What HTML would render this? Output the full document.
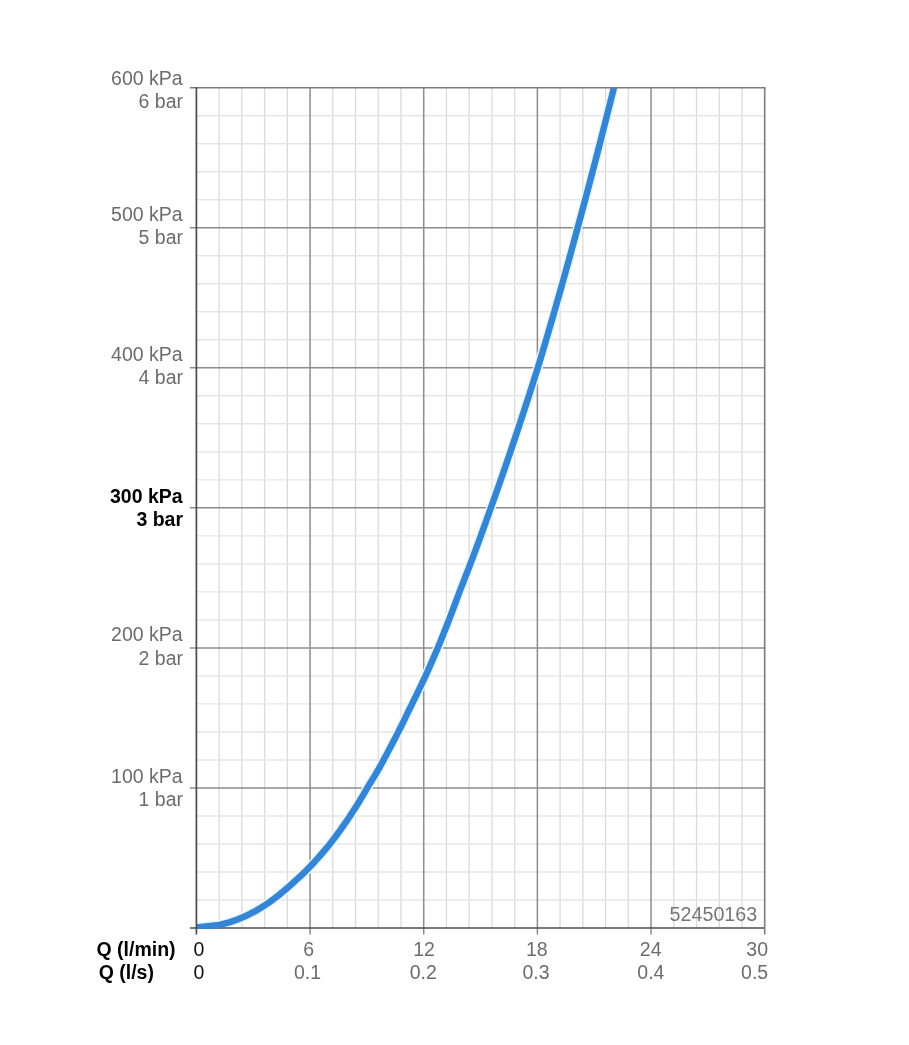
<!DOCTYPE html>
<html><head><meta charset="utf-8"><title>Pressure loss chart</title>
<style>
html,body{margin:0;padding:0;background:#fff;}
body{width:909px;height:1045px;overflow:hidden;}
svg{display:block;font-family:"Liberation Sans",Arial,Helvetica,sans-serif;font-size:19.5px;}
</style></head><body>
<svg width="909" height="1045" viewBox="0 0 909 1045">
<line x1="219.13" y1="87.70" x2="219.13" y2="928.00" stroke="#dadada" stroke-width="1.3"/>
<line x1="241.86" y1="87.70" x2="241.86" y2="928.00" stroke="#dadada" stroke-width="1.3"/>
<line x1="264.60" y1="87.70" x2="264.60" y2="928.00" stroke="#dadada" stroke-width="1.3"/>
<line x1="287.33" y1="87.70" x2="287.33" y2="928.00" stroke="#dadada" stroke-width="1.3"/>
<line x1="332.79" y1="87.70" x2="332.79" y2="928.00" stroke="#dadada" stroke-width="1.3"/>
<line x1="355.52" y1="87.70" x2="355.52" y2="928.00" stroke="#dadada" stroke-width="1.3"/>
<line x1="378.26" y1="87.70" x2="378.26" y2="928.00" stroke="#dadada" stroke-width="1.3"/>
<line x1="400.99" y1="87.70" x2="400.99" y2="928.00" stroke="#dadada" stroke-width="1.3"/>
<line x1="446.45" y1="87.70" x2="446.45" y2="928.00" stroke="#dadada" stroke-width="1.3"/>
<line x1="469.18" y1="87.70" x2="469.18" y2="928.00" stroke="#dadada" stroke-width="1.3"/>
<line x1="491.92" y1="87.70" x2="491.92" y2="928.00" stroke="#dadada" stroke-width="1.3"/>
<line x1="514.65" y1="87.70" x2="514.65" y2="928.00" stroke="#dadada" stroke-width="1.3"/>
<line x1="560.11" y1="87.70" x2="560.11" y2="928.00" stroke="#dadada" stroke-width="1.3"/>
<line x1="582.84" y1="87.70" x2="582.84" y2="928.00" stroke="#dadada" stroke-width="1.3"/>
<line x1="605.58" y1="87.70" x2="605.58" y2="928.00" stroke="#dadada" stroke-width="1.3"/>
<line x1="628.31" y1="87.70" x2="628.31" y2="928.00" stroke="#dadada" stroke-width="1.3"/>
<line x1="673.77" y1="87.70" x2="673.77" y2="928.00" stroke="#dadada" stroke-width="1.3"/>
<line x1="696.50" y1="87.70" x2="696.50" y2="928.00" stroke="#dadada" stroke-width="1.3"/>
<line x1="719.24" y1="87.70" x2="719.24" y2="928.00" stroke="#dadada" stroke-width="1.3"/>
<line x1="741.97" y1="87.70" x2="741.97" y2="928.00" stroke="#dadada" stroke-width="1.3"/>
<line x1="196.40" y1="899.99" x2="764.70" y2="899.99" stroke="#e5e5e5" stroke-width="1.4"/>
<line x1="196.40" y1="871.98" x2="764.70" y2="871.98" stroke="#e5e5e5" stroke-width="1.4"/>
<line x1="196.40" y1="843.97" x2="764.70" y2="843.97" stroke="#e5e5e5" stroke-width="1.4"/>
<line x1="196.40" y1="815.96" x2="764.70" y2="815.96" stroke="#e5e5e5" stroke-width="1.4"/>
<line x1="196.40" y1="759.94" x2="764.70" y2="759.94" stroke="#e5e5e5" stroke-width="1.4"/>
<line x1="196.40" y1="731.93" x2="764.70" y2="731.93" stroke="#e5e5e5" stroke-width="1.4"/>
<line x1="196.40" y1="703.92" x2="764.70" y2="703.92" stroke="#e5e5e5" stroke-width="1.4"/>
<line x1="196.40" y1="675.91" x2="764.70" y2="675.91" stroke="#e5e5e5" stroke-width="1.4"/>
<line x1="196.40" y1="619.89" x2="764.70" y2="619.89" stroke="#e5e5e5" stroke-width="1.4"/>
<line x1="196.40" y1="591.88" x2="764.70" y2="591.88" stroke="#e5e5e5" stroke-width="1.4"/>
<line x1="196.40" y1="563.87" x2="764.70" y2="563.87" stroke="#e5e5e5" stroke-width="1.4"/>
<line x1="196.40" y1="535.86" x2="764.70" y2="535.86" stroke="#e5e5e5" stroke-width="1.4"/>
<line x1="196.40" y1="479.84" x2="764.70" y2="479.84" stroke="#e5e5e5" stroke-width="1.4"/>
<line x1="196.40" y1="451.83" x2="764.70" y2="451.83" stroke="#e5e5e5" stroke-width="1.4"/>
<line x1="196.40" y1="423.82" x2="764.70" y2="423.82" stroke="#e5e5e5" stroke-width="1.4"/>
<line x1="196.40" y1="395.81" x2="764.70" y2="395.81" stroke="#e5e5e5" stroke-width="1.4"/>
<line x1="196.40" y1="339.79" x2="764.70" y2="339.79" stroke="#e5e5e5" stroke-width="1.4"/>
<line x1="196.40" y1="311.78" x2="764.70" y2="311.78" stroke="#e5e5e5" stroke-width="1.4"/>
<line x1="196.40" y1="283.77" x2="764.70" y2="283.77" stroke="#e5e5e5" stroke-width="1.4"/>
<line x1="196.40" y1="255.76" x2="764.70" y2="255.76" stroke="#e5e5e5" stroke-width="1.4"/>
<line x1="196.40" y1="199.74" x2="764.70" y2="199.74" stroke="#e5e5e5" stroke-width="1.4"/>
<line x1="196.40" y1="171.73" x2="764.70" y2="171.73" stroke="#e5e5e5" stroke-width="1.4"/>
<line x1="196.40" y1="143.72" x2="764.70" y2="143.72" stroke="#e5e5e5" stroke-width="1.4"/>
<line x1="196.40" y1="115.71" x2="764.70" y2="115.71" stroke="#e5e5e5" stroke-width="1.4"/>
<line x1="310.06" y1="87.70" x2="310.06" y2="934.40" stroke="#8c8c8c" stroke-width="1.5"/>
<line x1="423.72" y1="87.70" x2="423.72" y2="934.40" stroke="#8c8c8c" stroke-width="1.5"/>
<line x1="537.38" y1="87.70" x2="537.38" y2="934.40" stroke="#8c8c8c" stroke-width="1.5"/>
<line x1="651.04" y1="87.70" x2="651.04" y2="934.40" stroke="#8c8c8c" stroke-width="1.5"/>
<line x1="189.80" y1="787.95" x2="764.70" y2="787.95" stroke="#8c8c8c" stroke-width="1.5"/>
<line x1="189.80" y1="647.90" x2="764.70" y2="647.90" stroke="#8c8c8c" stroke-width="1.5"/>
<line x1="189.80" y1="507.85" x2="764.70" y2="507.85" stroke="#8c8c8c" stroke-width="1.5"/>
<line x1="189.80" y1="367.80" x2="764.70" y2="367.80" stroke="#8c8c8c" stroke-width="1.5"/>
<line x1="189.80" y1="227.75" x2="764.70" y2="227.75" stroke="#8c8c8c" stroke-width="1.5"/>
<defs><clipPath id="c"><rect x="196.20000000000002" y="87.7" width="568.3000000000001" height="841.3"/></clipPath></defs>
<polyline clip-path="url(#c)" points="196.20,927.52 219.54,924.97 230.08,922.14 238.03,919.31 244.68,916.49 250.51,913.66 255.76,910.83 260.57,908.00 265.02,905.17 269.18,902.34 273.11,899.51 276.83,896.69 280.37,893.86 283.75,891.03 287.00,888.20 290.25,885.37 293.46,882.54 296.58,879.71 299.63,876.89 302.59,874.06 305.49,871.23 308.33,868.40 311.09,865.57 313.71,862.74 316.28,859.91 318.80,857.08 321.27,854.26 323.70,851.43 326.08,848.60 328.42,845.77 330.70,842.94 332.87,840.11 335.01,837.28 337.10,834.46 339.17,831.63 341.20,828.80 343.20,825.97 345.17,823.14 347.12,820.31 349.03,817.48 350.91,814.66 352.75,811.83 354.56,809.00 356.35,806.17 358.12,803.34 359.86,800.51 361.57,797.68 363.24,794.86 364.89,792.03 366.52,789.20 368.21,786.37 369.95,783.54 371.69,780.71 373.40,777.88 375.10,775.06 376.79,772.23 378.46,769.40 380.02,766.57 381.58,763.74 383.12,760.91 384.64,758.08 386.15,755.26 387.65,752.43 389.14,749.60 390.64,746.77 392.13,743.94 393.61,741.11 395.08,738.28 396.53,735.45 397.98,732.63 399.40,729.80 400.80,726.97 402.19,724.14 403.57,721.31 404.95,718.48 406.31,715.65 407.66,712.83 409.02,710.00 410.44,707.17 411.84,704.34 413.24,701.51 414.63,698.68 416.01,695.85 417.39,693.03 418.75,690.20 420.11,687.37 421.46,684.54 422.81,681.71 424.15,678.88 425.48,676.05 426.75,673.23 428.01,670.40 429.27,667.57 430.51,664.74 431.75,661.91 432.99,659.08 434.21,656.25 435.43,653.43 436.65,650.60 437.85,647.77 439.01,644.94 440.16,642.11 441.30,639.28 442.44,636.45 443.57,633.62 444.70,630.80 445.82,627.97 446.93,625.14 448.04,622.31 449.14,619.48 450.22,616.65 451.30,613.82 452.38,611.00 453.44,608.17 454.51,605.34 455.57,602.51 456.62,599.68 457.66,596.85 458.70,594.02 459.76,591.20 460.88,588.37 461.99,585.54 463.10,582.71 464.21,579.88 465.31,577.05 466.40,574.22 467.50,571.40 468.59,568.57 469.67,565.74 470.75,562.91 471.82,560.08 472.88,557.25 473.94,554.42 475.00,551.60 476.05,548.77 477.10,545.94 478.14,543.11 479.18,540.28 480.22,537.45 481.25,534.62 482.28,531.80 483.31,528.97 484.33,526.14 485.35,523.31 486.36,520.48 487.37,517.65 488.38,514.82 489.39,511.99 490.39,509.17 491.40,506.34 492.41,503.51 493.42,500.68 494.43,497.85 495.43,495.02 496.43,492.19 497.43,489.37 498.42,486.54 499.41,483.71 500.40,480.88 501.39,478.05 502.37,475.22 503.35,472.39 504.33,469.57 505.30,466.74 506.27,463.91 507.24,461.08 508.21,458.25 509.17,455.42 510.13,452.59 511.09,449.77 512.05,446.94 513.00,444.11 513.95,441.28 514.90,438.45 515.84,435.62 516.79,432.79 517.73,429.97 518.67,427.14 519.60,424.31 520.53,421.48 521.46,418.65 522.39,415.82 523.32,412.99 524.24,410.17 525.16,407.34 526.08,404.51 527.00,401.68 527.91,398.85 528.83,396.02 529.74,393.19 530.65,390.36 531.55,387.54 532.45,384.71 533.36,381.88 534.26,379.05 535.15,376.22 536.05,373.39 536.94,370.56 537.83,367.74 538.68,364.91 539.53,362.08 540.38,359.25 541.23,356.42 542.07,353.59 542.91,350.76 543.75,347.94 544.59,345.11 545.42,342.28 546.26,339.45 547.09,336.62 547.92,333.79 548.74,330.96 549.57,328.14 550.39,325.31 551.21,322.48 552.03,319.65 552.85,316.82 553.67,313.99 554.48,311.16 555.29,308.34 556.10,305.51 556.91,302.68 557.71,299.85 558.52,297.02 559.32,294.19 560.12,291.36 560.92,288.54 561.71,285.71 562.51,282.88 563.30,280.05 564.09,277.22 564.88,274.39 565.67,271.56 566.45,268.73 567.24,265.91 568.02,263.08 568.80,260.25 569.58,257.42 570.35,254.59 571.13,251.76 571.90,248.93 572.67,246.11 573.44,243.28 574.21,240.45 574.98,237.62 575.74,234.79 576.51,231.96 577.27,229.13 578.03,226.31 578.80,223.48 579.56,220.65 580.33,217.82 581.09,214.99 581.85,212.16 582.61,209.33 583.36,206.51 584.12,203.68 584.88,200.85 585.63,198.02 586.38,195.19 587.13,192.36 587.88,189.53 588.62,186.71 589.37,183.88 590.11,181.05 590.86,178.22 591.60,175.39 592.34,172.56 593.08,169.73 593.81,166.90 594.55,164.08 595.28,161.25 596.02,158.42 596.75,155.59 597.48,152.76 598.21,149.93 598.93,147.10 599.66,144.28 600.39,141.45 601.11,138.62 601.83,135.79 602.55,132.96 603.27,130.13 603.99,127.30 604.71,124.48 605.42,121.65 606.14,118.82 606.85,115.99 607.56,113.16 608.27,110.33 608.98,107.50 609.69,104.68 610.40,101.85 611.10,99.02 611.81,96.19 612.51,93.36 613.21,90.53 613.92,87.70 614.62,84.88 615.32,82.05 616.02,79.22" fill="none" stroke="#e4f7ff" stroke-width="9.5" stroke-linejoin="round"/>
<line x1="189.80" y1="928.00" x2="764.70" y2="928.00" stroke="#4c4c4c" stroke-width="1.7"/>
<polyline clip-path="url(#c)" points="196.20,927.52 219.54,924.97 230.08,922.14 238.03,919.31 244.68,916.49 250.51,913.66 255.76,910.83 260.57,908.00 265.02,905.17 269.18,902.34 273.11,899.51 276.83,896.69 280.37,893.86 283.75,891.03 287.00,888.20 290.25,885.37 293.46,882.54 296.58,879.71 299.63,876.89 302.59,874.06 305.49,871.23 308.33,868.40 311.09,865.57 313.71,862.74 316.28,859.91 318.80,857.08 321.27,854.26 323.70,851.43 326.08,848.60 328.42,845.77 330.70,842.94 332.87,840.11 335.01,837.28 337.10,834.46 339.17,831.63 341.20,828.80 343.20,825.97 345.17,823.14 347.12,820.31 349.03,817.48 350.91,814.66 352.75,811.83 354.56,809.00 356.35,806.17 358.12,803.34 359.86,800.51 361.57,797.68 363.24,794.86 364.89,792.03 366.52,789.20 368.21,786.37 369.95,783.54 371.69,780.71 373.40,777.88 375.10,775.06 376.79,772.23 378.46,769.40 380.02,766.57 381.58,763.74 383.12,760.91 384.64,758.08 386.15,755.26 387.65,752.43 389.14,749.60 390.64,746.77 392.13,743.94 393.61,741.11 395.08,738.28 396.53,735.45 397.98,732.63 399.40,729.80 400.80,726.97 402.19,724.14 403.57,721.31 404.95,718.48 406.31,715.65 407.66,712.83 409.02,710.00 410.44,707.17 411.84,704.34 413.24,701.51 414.63,698.68 416.01,695.85 417.39,693.03 418.75,690.20 420.11,687.37 421.46,684.54 422.81,681.71 424.15,678.88 425.48,676.05 426.75,673.23 428.01,670.40 429.27,667.57 430.51,664.74 431.75,661.91 432.99,659.08 434.21,656.25 435.43,653.43 436.65,650.60 437.85,647.77 439.01,644.94 440.16,642.11 441.30,639.28 442.44,636.45 443.57,633.62 444.70,630.80 445.82,627.97 446.93,625.14 448.04,622.31 449.14,619.48 450.22,616.65 451.30,613.82 452.38,611.00 453.44,608.17 454.51,605.34 455.57,602.51 456.62,599.68 457.66,596.85 458.70,594.02 459.76,591.20 460.88,588.37 461.99,585.54 463.10,582.71 464.21,579.88 465.31,577.05 466.40,574.22 467.50,571.40 468.59,568.57 469.67,565.74 470.75,562.91 471.82,560.08 472.88,557.25 473.94,554.42 475.00,551.60 476.05,548.77 477.10,545.94 478.14,543.11 479.18,540.28 480.22,537.45 481.25,534.62 482.28,531.80 483.31,528.97 484.33,526.14 485.35,523.31 486.36,520.48 487.37,517.65 488.38,514.82 489.39,511.99 490.39,509.17 491.40,506.34 492.41,503.51 493.42,500.68 494.43,497.85 495.43,495.02 496.43,492.19 497.43,489.37 498.42,486.54 499.41,483.71 500.40,480.88 501.39,478.05 502.37,475.22 503.35,472.39 504.33,469.57 505.30,466.74 506.27,463.91 507.24,461.08 508.21,458.25 509.17,455.42 510.13,452.59 511.09,449.77 512.05,446.94 513.00,444.11 513.95,441.28 514.90,438.45 515.84,435.62 516.79,432.79 517.73,429.97 518.67,427.14 519.60,424.31 520.53,421.48 521.46,418.65 522.39,415.82 523.32,412.99 524.24,410.17 525.16,407.34 526.08,404.51 527.00,401.68 527.91,398.85 528.83,396.02 529.74,393.19 530.65,390.36 531.55,387.54 532.45,384.71 533.36,381.88 534.26,379.05 535.15,376.22 536.05,373.39 536.94,370.56 537.83,367.74 538.68,364.91 539.53,362.08 540.38,359.25 541.23,356.42 542.07,353.59 542.91,350.76 543.75,347.94 544.59,345.11 545.42,342.28 546.26,339.45 547.09,336.62 547.92,333.79 548.74,330.96 549.57,328.14 550.39,325.31 551.21,322.48 552.03,319.65 552.85,316.82 553.67,313.99 554.48,311.16 555.29,308.34 556.10,305.51 556.91,302.68 557.71,299.85 558.52,297.02 559.32,294.19 560.12,291.36 560.92,288.54 561.71,285.71 562.51,282.88 563.30,280.05 564.09,277.22 564.88,274.39 565.67,271.56 566.45,268.73 567.24,265.91 568.02,263.08 568.80,260.25 569.58,257.42 570.35,254.59 571.13,251.76 571.90,248.93 572.67,246.11 573.44,243.28 574.21,240.45 574.98,237.62 575.74,234.79 576.51,231.96 577.27,229.13 578.03,226.31 578.80,223.48 579.56,220.65 580.33,217.82 581.09,214.99 581.85,212.16 582.61,209.33 583.36,206.51 584.12,203.68 584.88,200.85 585.63,198.02 586.38,195.19 587.13,192.36 587.88,189.53 588.62,186.71 589.37,183.88 590.11,181.05 590.86,178.22 591.60,175.39 592.34,172.56 593.08,169.73 593.81,166.90 594.55,164.08 595.28,161.25 596.02,158.42 596.75,155.59 597.48,152.76 598.21,149.93 598.93,147.10 599.66,144.28 600.39,141.45 601.11,138.62 601.83,135.79 602.55,132.96 603.27,130.13 603.99,127.30 604.71,124.48 605.42,121.65 606.14,118.82 606.85,115.99 607.56,113.16 608.27,110.33 608.98,107.50 609.69,104.68 610.40,101.85 611.10,99.02 611.81,96.19 612.51,93.36 613.21,90.53 613.92,87.70 614.62,84.88 615.32,82.05 616.02,79.22" fill="none" stroke="#3585d6" stroke-width="6.5" stroke-linejoin="round"/>
<line x1="189.80" y1="87.70" x2="765.50" y2="87.70" stroke="#7c7c7c" stroke-width="1.6"/>
<line x1="764.70" y1="87.70" x2="764.70" y2="934.40" stroke="#7c7c7c" stroke-width="1.6"/>
<line x1="196.40" y1="86.90" x2="196.40" y2="934.40" stroke="#4c4c4c" stroke-width="1.7"/>
<text x="757.2" y="921.0" text-anchor="end" fill="#767676" font-size="19.7">52450163</text>
<text x="182.6" y="783.3" text-anchor="end" fill="#6c6c6c">100 kPa</text>
<text x="183" y="806.4" text-anchor="end" fill="#6c6c6c">1 bar</text>
<text x="182.6" y="641.4" text-anchor="end" fill="#6c6c6c">200 kPa</text>
<text x="183" y="664.5" text-anchor="end" fill="#6c6c6c">2 bar</text>
<text x="182.6" y="502.5" text-anchor="end" fill="#000" font-weight="bold">300 kPa</text>
<text x="183" y="525.6" text-anchor="end" fill="#000" font-weight="bold">3 bar</text>
<text x="182.6" y="360.8" text-anchor="end" fill="#6c6c6c">400 kPa</text>
<text x="183" y="383.9" text-anchor="end" fill="#6c6c6c">4 bar</text>
<text x="182.6" y="221.1" text-anchor="end" fill="#6c6c6c">500 kPa</text>
<text x="183" y="243.6" text-anchor="end" fill="#6c6c6c">5 bar</text>
<text x="182.6" y="84.7" text-anchor="end" fill="#6c6c6c">600 kPa</text>
<text x="183" y="107.5" text-anchor="end" fill="#6c6c6c">6 bar</text>
<text x="96.5" y="955.7" font-weight="bold" fill="#000">Q (l/min)</text>
<text x="98.7" y="978.7" font-weight="bold" fill="#000">Q (l/s)</text>
<text x="193.4" y="955.7" fill="#111">0</text>
<text x="193.4" y="978.7" fill="#111">0</text>
<text x="308.7" y="955.7" text-anchor="middle" fill="#6c6c6c">6</text>
<text x="307.5" y="978.7" text-anchor="middle" fill="#6c6c6c">0.1</text>
<text x="424.0" y="955.7" text-anchor="middle" fill="#6c6c6c">12</text>
<text x="423.3" y="978.7" text-anchor="middle" fill="#6c6c6c">0.2</text>
<text x="536.8" y="955.7" text-anchor="middle" fill="#6c6c6c">18</text>
<text x="536.0" y="978.7" text-anchor="middle" fill="#6c6c6c">0.3</text>
<text x="650.7" y="955.7" text-anchor="middle" fill="#6c6c6c">24</text>
<text x="650.9" y="978.7" text-anchor="middle" fill="#6c6c6c">0.4</text>
<text x="768.0" y="955.7" text-anchor="end" fill="#6c6c6c">30</text>
<text x="768.2" y="978.7" text-anchor="end" fill="#6c6c6c">0.5</text>
</svg>
</body></html>
